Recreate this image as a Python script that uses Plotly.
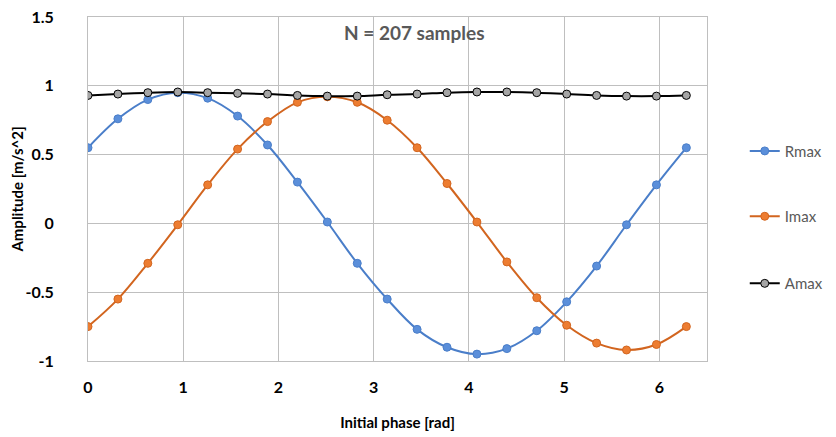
import math
import plotly.graph_objects as go

phase = [i * math.pi / 10 for i in range(21)]
rmax = [0.55, 0.76, 0.90, 0.95, 0.91, 0.78, 0.57, 0.30, 0.01, -0.29, -0.55,
        -0.77, -0.90, -0.95, -0.91, -0.78, -0.57, -0.31, -0.01, 0.28, 0.55]
imax = [-0.75, -0.55, -0.29, -0.01, 0.28, 0.54, 0.74, 0.88, 0.92, 0.88, 0.75,
        0.55, 0.29, 0.01, -0.28, -0.54, -0.74, -0.87, -0.92, -0.88, -0.75]
amax = [0.93, 0.94, 0.95, 0.955, 0.95, 0.945, 0.94, 0.93, 0.925, 0.925, 0.935,
        0.94, 0.95, 0.955, 0.955, 0.95, 0.94, 0.93, 0.925, 0.925, 0.93]
y_ticks = [-1, -0.5, 0, 0.5, 1, 1.5]
y_ticktext = ["-1", "-0.5", "0", "0.5", "1", "1.5"]
x_ticks = [0, 1, 2, 3, 4, 5, 6]

FONT = "Lato"
fig = go.Figure()
fig.add_trace(go.Scatter(x=phase, y=rmax, name="Rmax", mode="lines+markers",
                         line=dict(color="#4A7EC9", width=2, shape="spline"),
                         marker=dict(color="#5B8FDA", size=8, line=dict(color="#4A7EC9", width=1)),
                         legend="legend"))
fig.add_trace(go.Scatter(x=phase, y=imax, name="Imax", mode="lines+markers",
                         line=dict(color="#D2651F", width=2, shape="spline"),
                         marker=dict(color="#ED7D31", size=8, line=dict(color="#D2651F", width=1)),
                         legend="legend2"))
fig.add_trace(go.Scatter(x=phase, y=amax, name="Amax", mode="lines+markers",
                         line=dict(color="#000000", width=2, shape="spline"),
                         marker=dict(color="#A5A5A5", size=8, line=dict(color="#000000", width=1)),
                         legend="legend3"))

legfont = dict(family=FONT, size=15, color="#595959")
common = dict(x=1.061, xanchor="left", yanchor="middle", bgcolor="rgba(0,0,0,0)", font=legfont)
fig.update_layout(
    width=836, height=437,
    showlegend=True,
    margin=dict(l=80, r=137, t=9, b=84, autoexpand=False),
    plot_bgcolor="white", paper_bgcolor="white",
    font=dict(family=FONT, color="#000000"),
    legend=dict(y=0.61, **common),
    legend2=dict(y=0.42, **common),
    legend3=dict(y=0.225, **common),
    xaxis=dict(range=[0, 6.5], tickvals=x_ticks, showgrid=True, gridcolor="#BFBFBF",
               showline=True, linecolor="#BFBFBF", mirror=True, zeroline=False, automargin=False,
               ticks="", ticklabelstandoff=12, ticklabeloverflow="allow",
               tickfont=dict(family=FONT, size=16, color="#000000", weight="bold"),
               title=dict(text="Initial phase [rad]", standoff=22,
                          font=dict(family=FONT, size=15, color="#000000", weight="bold"))),
    yaxis=dict(range=[-1, 1.5], tickvals=y_ticks, ticktext=y_ticktext, showgrid=True, gridcolor="#BFBFBF",
               showline=True, linecolor="#BFBFBF", mirror=True, zeroline=False, automargin=False,
               ticks="", ticklabelstandoff=30, ticklabeloverflow="allow",
               tickfont=dict(family=FONT, size=16, color="#000000", weight="bold"),
               title=dict(text="Amplitude [m/s^2]", standoff=4,
                          font=dict(family=FONT, size=15, color="#000000", weight="bold"))),
    annotations=[dict(text="N = 207 samples", x=3.43, y=1.39, xref="x", yref="y",
                      showarrow=False, font=dict(family=FONT, size=19, color="#595959", weight="bold"))],
)
fig.write_html("out.html")
